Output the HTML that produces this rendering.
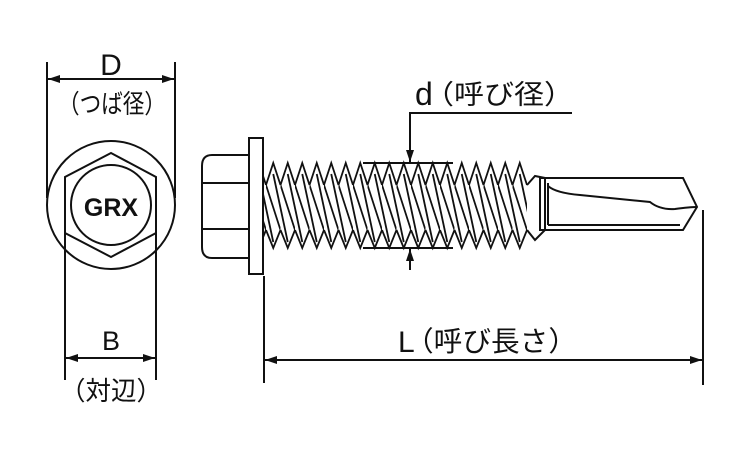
<!DOCTYPE html>
<html><head><meta charset="utf-8"><style>
html,body{margin:0;padding:0;background:#fff;width:750px;height:450px;overflow:hidden}
text{font-family:"Liberation Sans","Noto Sans CJK JP",sans-serif;fill:#111}
</style></head><body>
<svg width="750" height="450" viewBox="0 0 750 450" xmlns="http://www.w3.org/2000/svg">
<defs>
<marker id="a" viewBox="0 0 12 8" refX="12" refY="4" markerWidth="12" markerHeight="8" orient="auto-start-reverse" markerUnits="userSpaceOnUse"><path d="M0,0 L12,4 L0,8 z" fill="#111"/></marker>
<pattern id="th" patternUnits="userSpaceOnUse" x="266" y="150" width="14.5" height="110">
<g fill="none" stroke="#111" stroke-width="1.8">
<polyline points="0,35 7.25,13 14.5,35"/>
<polyline points="0,80 7.25,98 14.5,80"/>
<line x1="0" y1="35" x2="14.5" y2="80"/>
<line x1="-7.25" y1="24" x2="7.25" y2="92"/>
<line x1="7.25" y1="24" x2="21.75" y2="92"/>
</g>
</pattern>
</defs>
<g fill="none" stroke="#111" stroke-width="2">
<circle cx="111" cy="205" r="64"/>
<polygon points="111,153 156,177 156,233 111,257 65,233 65,177"/>
<circle cx="111" cy="205" r="40"/>
<line x1="47" y1="62" x2="47" y2="198"/>
<line x1="175" y1="62" x2="175" y2="198"/>
<line x1="48" y1="79" x2="174" y2="79" marker-start="url(#a)" marker-end="url(#a)"/>
<line x1="65" y1="233" x2="65" y2="380"/>
<line x1="156" y1="233" x2="156" y2="380"/>
<line x1="66" y1="358" x2="155" y2="358" marker-start="url(#a)" marker-end="url(#a)"/>
<path d="M248,155 L212,155 Q202,155 202,166 L202,247 Q202,258 212,258 L248,258"/>
<line x1="202" y1="183" x2="248" y2="183"/>
<line x1="202" y1="229" x2="248" y2="229"/>
<rect x="249" y="138" width="14" height="136"/>
<polygon points="540,178 683,178 697,207 683,230 540,230"/>
<line x1="548" y1="183" x2="548" y2="225"/>
<line x1="548" y1="225" x2="680" y2="225"/>
<path d="M548,186 Q556,193 580,195 L650,202 Q660,210 675,209 Q690,207 697,207"/>
<path d="M527,185 L535,176 L545,178 L545,230 L535,240 L527,230"/>
<line x1="363" y1="163" x2="453" y2="163"/>
<line x1="363" y1="248" x2="453" y2="248"/>
<polyline points="572,113 410,113 410,162" marker-end="url(#a)"/>
<line x1="410" y1="270" x2="410" y2="249" marker-end="url(#a)"/>
<line x1="264" y1="276" x2="264" y2="383"/>
<line x1="703" y1="210" x2="703" y2="385"/>
<line x1="265" y1="360" x2="702" y2="360" marker-start="url(#a)" marker-end="url(#a)"/>
</g>
<rect x="264" y="150" width="263" height="110" fill="url(#th)"/>
<text x="111" y="75" font-size="30" text-anchor="middle">D</text>
<text x="58" y="113" font-size="26" textLength="108" lengthAdjust="spacingAndGlyphs">（つば径）</text>
<text x="111" y="216" font-size="25" font-weight="bold" text-anchor="middle">GRX</text>
<text x="111" y="350" font-size="27" text-anchor="middle">B</text>
<text x="60" y="400" font-size="26" textLength="102" lengthAdjust="spacingAndGlyphs">（対辺）</text>
<text x="415" y="105" font-size="32">d</text>
<text x="424" y="104" font-size="27" textLength="150" lengthAdjust="spacingAndGlyphs">（呼び径）</text>
<text x="398" y="352" font-size="30">L</text>
<text x="405" y="351" font-size="28" textLength="172" lengthAdjust="spacingAndGlyphs">（呼び長さ）</text>
</svg>
</body></html>
